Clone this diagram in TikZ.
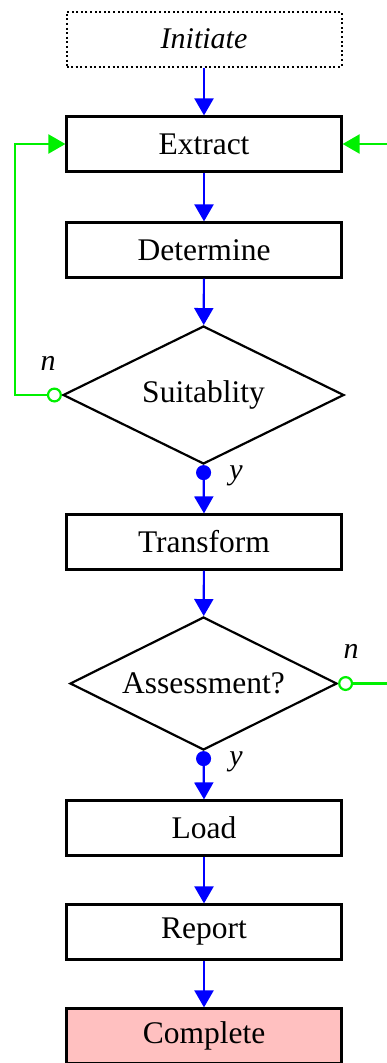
\documentclass[tikz,border=0pt]{standalone}
\usepackage{fontspec}
\setmainfont{Liberation Serif}
\usetikzlibrary{shapes.geometric,arrows.meta}
\definecolor{pinkfill}{RGB}{255,192,192}
\definecolor{grn}{RGB}{0,240,0}
\begin{document}
\begin{tikzpicture}[x=1pt,y=-1pt,
  txt/.style={font=\fontsize{31.5}{36}\selectfont},
  box/.style={txt,draw,line width=2.2pt,minimum width=275pt,minimum height=55pt,inner sep=0pt},
  dotbox/.style={draw,line width=2pt,dash pattern=on 2pt off 2.6pt,minimum width=275pt,minimum height=55pt,inner sep=0pt,font=\fontsize{30}{36}\selectfont\itshape},
  decision/.style={txt,draw,diamond,aspect=2,line width=2.2pt,inner sep=0pt},
  lbl/.style={font=\fontsize{30}{36}\selectfont\itshape,inner sep=0pt},
  flow/.style={draw=blue,line width=2.2pt,-{Triangle[width=19pt,length=17pt]}},
  yes/.style={flow,{Circle[length=15pt,width=15pt]}-{Triangle[width=19pt,length=17pt]}},
  gflow/.style={draw=grn,line width=2.2pt,-{Triangle[width=19pt,length=17pt]}},
  no/.style={gflow,{Circle[open,length=15pt,width=15pt,fill=white]}-{Triangle[width=19pt,length=17pt]}}
]
\useasboundingbox (0,0) rectangle (386,1063);
\node[dotbox] (init) at (204,39) {Initiate};
\node[box] (extract) at (204,144) {Extract};
\node[box] (determine) at (204,250) {Determine};
\node[decision,minimum width=281pt,minimum height=138pt] (suit) at (203.5,395) {Suitablity};
\node[box] (transform) at (204,542) {Transform};
\node[decision,minimum width=267pt,minimum height=133pt] (assess) at (203.5,683.5) {Assessment?};
\node[box] (load) at (204,828) {Load};
\node[box] (report) at (204,932) {Report};
\node[box,fill=pinkfill] (complete) at (204,1036) {Complete};

\coordinate (lp) at (15,395);
\coordinate (rp) at (420,683.5);

\draw[flow] (init) -- (extract);
\draw[flow] (extract) -- (determine);
\draw[flow] (determine) -- (suit);
\draw[yes] (suit.south) -- (transform.north);
\draw[flow] (transform) -- (assess);
\draw[yes] (assess.south) -- (load.north);
\draw[flow] (load) -- (report);
\draw[flow] (report) -- (complete);

\draw[no] (suit.west) -- (lp) |- (extract.west);
\draw[no] (assess.east) -- (rp) |- (extract.east);

\node[lbl] (n1) at (48,363) {n};
\node[lbl] (y1) at (236,476) {y};
\node[lbl] (n2) at (351,651) {n};
\node[lbl] (y2) at (236,762) {y};
\end{tikzpicture}
\end{document}
